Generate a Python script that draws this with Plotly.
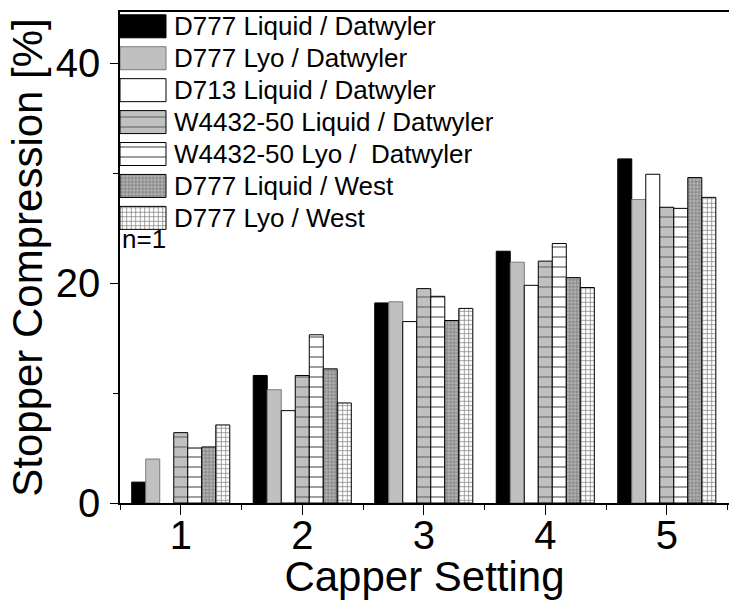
import plotly.graph_objects as go

settings = [1, 2, 3, 4, 5]
series_names = [
    "D777 Liquid / Datwyler",
    "D777 Lyo / Datwyler",
    "D713 Liquid / Datwyler",
    "W4432-50 Liquid / Datwyler",
    "W4432-50 Lyo /  Datwyler",
    "D777 Liquid / West",
    "D777 Lyo / West",
]
d777_liq_datwyler = [1.9, 11.6, 18.2, 22.9, 31.3]
d777_lyo_datwyler = [4.0, 10.3, 18.3, 21.9, 27.6]
d713_liq_datwyler = [None, 8.4, 16.5, 19.8, 29.9]
w4432_liq_datwyler = [6.4, 11.6, 19.5, 22.0, 26.9]
w4432_lyo_datwyler = [5.0, 15.3, 18.8, 23.6, 26.8]
d777_liq_west = [5.1, 12.2, 16.6, 20.5, 29.6]
d777_lyo_west = [7.1, 9.1, 17.7, 19.6, 27.8]
series_values = [d777_liq_datwyler, d777_lyo_datwyler, d713_liq_datwyler,
                 w4432_liq_datwyler, w4432_lyo_datwyler, d777_liq_west, d777_lyo_west]
y_ticks = [0, 20, 40]
note_text = "n=1"

styles = [
    dict(color="#000000", line=dict(color="#000000", width=1)),
    dict(color="#c0c0c0", line=dict(color="#7a7a7a", width=1)),
    dict(color="#ffffff", line=dict(color="#000000", width=1)),
    dict(color="#c0c0c0", line=dict(color="#000000", width=1),
         pattern=dict(shape="-", fgcolor="#3a3a3a", bgcolor="#c0c0c0", size=10, solidity=0.15, fillmode="overlay")),
    dict(color="#ffffff", line=dict(color="#000000", width=1),
         pattern=dict(shape="-", fgcolor="#000000", bgcolor="#ffffff", size=10, solidity=0.15, fillmode="overlay")),
    dict(color="#a0a0a0", line=dict(color="#000000", width=1),
         pattern=dict(shape="+", fgcolor="#303030", bgcolor="#b4b4b4", size=3.5, solidity=0.35, fillmode="overlay")),
    dict(color="#ffffff", line=dict(color="#000000", width=1),
         pattern=dict(shape="+", fgcolor="#000000", bgcolor="#ffffff", size=4.5, solidity=0.3, fillmode="overlay")),
]

FONT = "Liberation Sans, Arial, sans-serif"

fig = go.Figure()
# main grouped bars
for name, vals, st in zip(series_names, series_values, styles):
    fig.add_trace(go.Bar(x=settings, y=vals, name=name, marker=st, showlegend=False))

# legend swatches drawn as bars on an overlay axis pair
annotations = []
for i, (name, st) in enumerate(zip(series_names, styles)):
    fig.add_trace(go.Bar(x=[1], y=[i], orientation="h", xaxis="x2", yaxis="y2", marker=st,
                         width=0.72, offset=-0.36, showlegend=False, hoverinfo="skip", name=name))
    annotations.append(dict(text=name, x=1.14, y=i, xref="x2", yref="y2", xanchor="left",
                            yanchor="middle", showarrow=False,
                            font=dict(size=26, family=FONT, color="black")))
annotations.append(dict(text=note_text, x=0.0, y=6.66, xref="x2", yref="y2", xanchor="left",
                        yanchor="middle", showarrow=False,
                        font=dict(size=26, family=FONT, color="black")))

fig.update_layout(
    width=729, height=600,
    margin=dict(l=120, r=0, t=12, b=97, autoexpand=False),
    paper_bgcolor="white", plot_bgcolor="white",
    font=dict(family=FONT, color="black"),
    barmode="group", bargap=0.193, bargroupgap=0,
    showlegend=False,
    xaxis=dict(range=[0.5, 5.512], tickvals=settings, ticks="outside", ticklen=10, tickwidth=1,
               tickcolor="black", showline=True, linecolor="black", linewidth=1.5, mirror=True,
               showgrid=False, zeroline=False, automargin=False, ticklabelstandoff=-14,
               tickfont=dict(size=40, family=FONT, color="black"),
               minor=dict(tickvals=[0.5, 1.5, 2.5, 3.5, 4.5, 5.5], ticks="outside", ticklen=5,
                          tickcolor="black", showgrid=False),
               title=dict(text="Capper Setting", font=dict(size=42, family=FONT, color="black"), standoff=20)),
    yaxis=dict(range=[0, 44.66], tickvals=y_ticks, ticks="outside", ticklen=8, tickwidth=1,
               tickcolor="black", showline=True, linecolor="black", linewidth=1.5, mirror=False,
               showgrid=False, zeroline=False, automargin=False, ticklabelstandoff=2,
               tickfont=dict(size=40, family=FONT, color="black"),
               minor=dict(tickvals=[10, 30], ticks="outside", ticklen=5, tickcolor="black", showgrid=False),
               title=dict(text="Stopper Compression [%]", font=dict(size=42, family=FONT, color="black"), standoff=0)),
    xaxis2=dict(domain=[0, 1], range=[0, 13.24], anchor="y2", overlaying="x", visible=False,
                showgrid=False, zeroline=False, fixedrange=True),
    yaxis2=dict(domain=[0, 1], range=[14.93, -0.448], anchor="x2", overlaying="y", visible=False,
                showgrid=False, zeroline=False, fixedrange=True),
    annotations=annotations,
)

fig.write_html(
    "out.html",
    config={"displayModeBar": False},
    post_script="document.body.style.margin='0px';document.documentElement.style.overflow='hidden';",
)
